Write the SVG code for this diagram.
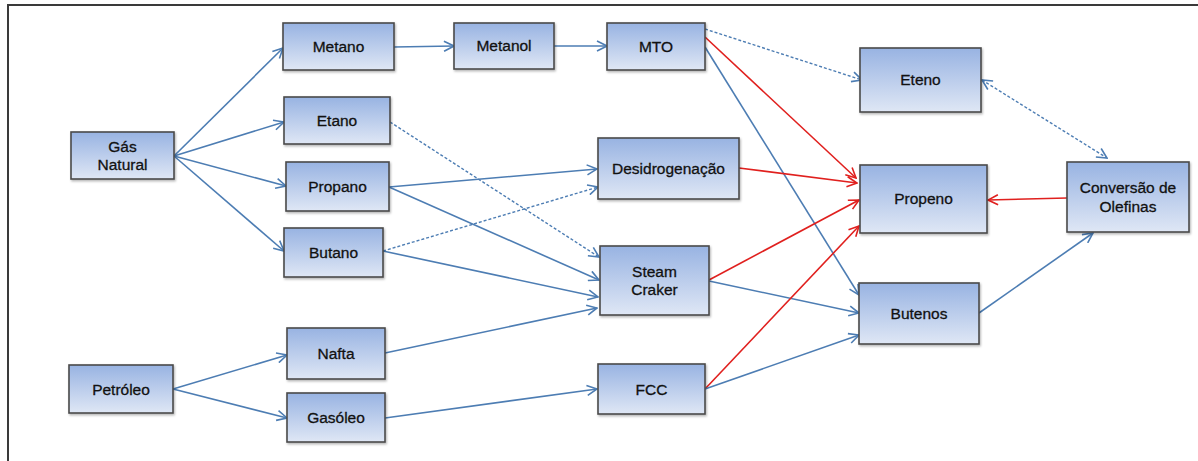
<svg xmlns="http://www.w3.org/2000/svg" width="1198" height="461" viewBox="0 0 1198 461">
<style>
.box{fill:url(#g);stroke:#4a4a4a;stroke-width:1.6;filter:url(#sh)}
.t{font-family:"Liberation Sans",Arial,sans-serif;font-size:15.5px;fill:#111;stroke:#111;stroke-width:0.3;text-anchor:middle}
.b{fill:none;stroke:#4d7db3;stroke-width:1.6;marker-end:url(#ab)}
.r{fill:none;stroke:#e0201e;stroke-width:1.6;marker-end:url(#ar)}
.d{stroke-dasharray:3 2;stroke-width:1.4}
</style>
<defs>
<linearGradient id="g" x1="0" y1="0" x2="0" y2="1">
<stop offset="0" stop-color="#98b3e2"/>
<stop offset="1" stop-color="#dfe7f5"/>
</linearGradient>
<filter id="sh" x="-10%" y="-10%" width="130%" height="140%">
<feDropShadow dx="1" dy="1.5" stdDeviation="1" flood-color="#000" flood-opacity="0.3"/>
</filter>
<marker id="ab" markerUnits="userSpaceOnUse" markerWidth="12" markerHeight="12" viewBox="0 0 12 12" refX="11" refY="6" orient="auto-start-reverse">
<path d="M1,1 L11,6 L1,11" fill="none" stroke="#4d7db3" stroke-width="1.6"/>
</marker>
<marker id="ar" markerUnits="userSpaceOnUse" markerWidth="12" markerHeight="12" viewBox="0 0 12 12" refX="11" refY="6" orient="auto">
<path d="M1,1 L11,6 L1,11" fill="none" stroke="#e0201e" stroke-width="1.6"/>
</marker>
</defs>
<rect width="1198" height="461" fill="#fff"/>
<path d="M8,461 V5 H1198" fill="none" stroke="#3a3a3a" stroke-width="2"/>
<g id="connectors">
<path class="b" d="M174,156 L283,48"/>
<path class="b" d="M174,156 L284,122"/>
<path class="b" d="M174,156 L286,186"/>
<path class="b" d="M174,156 L284,251"/>
<path class="b" d="M394,47 L454,46"/>
<path class="b" d="M554,46 L607,46"/>
<path class="b d" d="M705,29 L862,80"/>
<path class="r" d="M705,37 L856,178"/>
<path class="b" d="M705,47 L859,295"/>
<path class="b d" d="M390,122 L599,257"/>
<path class="b" d="M389,187 L597,169"/>
<path class="b" d="M389,187 L599,280"/>
<path class="b d" d="M383,251 L598,187"/>
<path class="b" d="M383,251 L598,297"/>
<path class="b" d="M385,353 L597,308"/>
<path class="b" d="M173,389 L287,355"/>
<path class="b" d="M173,389 L287,418"/>
<path class="b" d="M385,418 L597,389"/>
<path class="r" d="M739,168 L857,183"/>
<path class="r" d="M709,280 L859,200"/>
<path class="b" d="M709,281 L859,313"/>
<path class="r" d="M705,389 L859,226"/>
<path class="b" d="M705,389 L859,335"/>
<path class="b d" d="M982,80 L1107,158" marker-start="url(#ab)"/>
<path class="r" d="M1067,198 L988,200"/>
<path class="b" d="M979,313 L1093,233"/>
</g>
<g id="gas-natural"><rect class="box" x="71" y="132" width="103" height="47"/><text class="t" x="122.5" y="152">Gás</text><text class="t" x="122.5" y="170">Natural</text></g>
<g id="metano"><rect class="box" x="283" y="23" width="111" height="47"/><text class="t" x="338.5" y="52">Metano</text></g>
<g id="etano"><rect class="box" x="284" y="97" width="106" height="47"/><text class="t" x="337" y="126">Etano</text></g>
<g id="propano"><rect class="box" x="286" y="162" width="103" height="49"/><text class="t" x="337.5" y="192">Propano</text></g>
<g id="butano"><rect class="box" x="284" y="228" width="99" height="49"/><text class="t" x="333.5" y="258">Butano</text></g>
<g id="nafta"><rect class="box" x="287" y="328" width="98" height="51"/><text class="t" x="336" y="359">Nafta</text></g>
<g id="gasoleo"><rect class="box" x="287" y="393" width="98" height="49"/><text class="t" x="336" y="423">Gasóleo</text></g>
<g id="petroleo"><rect class="box" x="69" y="365" width="104" height="48"/><text class="t" x="121" y="395">Petróleo</text></g>
<g id="metanol"><rect class="box" x="454" y="23" width="100" height="46"/><text class="t" x="504" y="51">Metanol</text></g>
<g id="mto"><rect class="box" x="607" y="23" width="98" height="47"/><text class="t" x="656" y="52">MTO</text></g>
<g id="desidrogenacao"><rect class="box" x="598" y="138" width="141" height="61"/><text class="t" x="668.5" y="174">Desidrogenação</text></g>
<g id="steam-craker"><rect class="box" x="600" y="246" width="109" height="69"/><text class="t" x="654.5" y="277">Steam</text><text class="t" x="654.5" y="295">Craker</text></g>
<g id="fcc"><rect class="box" x="598" y="364" width="107" height="50"/><text class="t" x="651.5" y="395">FCC</text></g>
<g id="eteno"><rect class="box" x="860" y="48" width="121" height="64"/><text class="t" x="920.5" y="85">Eteno</text></g>
<g id="propeno"><rect class="box" x="860" y="165" width="127" height="68"/><text class="t" x="923.5" y="204">Propeno</text></g>
<g id="conversao-olefinas"><rect class="box" x="1067" y="162" width="122" height="70"/><text class="t" x="1128" y="193">Conversão de</text><text class="t" x="1128" y="212">Olefinas</text></g>
<g id="butenos"><rect class="box" x="859" y="283" width="120" height="61"/><text class="t" x="919" y="319">Butenos</text></g>
</svg>
